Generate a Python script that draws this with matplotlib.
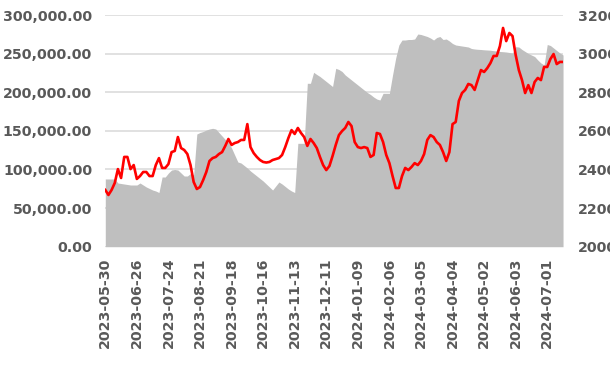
import numpy as np
import matplotlib.pyplot as plt
from matplotlib.ticker import FuncFormatter

# sampled every 2 trading days, starting 2023-05-30
volume = [
    87700, 87700, 87700, 87700, 82480, 81830, 81180, 80540, 79890, 79890,
    79890, 82480, 79890, 77300, 75360, 73410, 72120, 70180, 90250, 90250,
    95430, 99310, 99960, 99310, 95430, 91540, 91540, 94780, 92840, 145920,
    147870, 149160, 151100, 152400, 153300, 152400, 147870, 143330, 138800, 134920,
    127800, 118730, 109670, 108370, 105140, 101900, 98020, 94780, 91540, 88300,
    85070, 81180, 77300, 73410, 78590, 83770, 81180, 77950, 74710, 72120,
    70180, 133880, 133880, 133880, 211570, 211570, 225810, 222960, 220380, 217140,
    213900, 210660, 207430, 230990, 229440, 226850, 222320, 219080, 215840, 212610,
    209370, 206130, 202900, 199660, 197070, 193830, 191240, 189950, 198620, 198620,
    198620, 222320, 244330, 261160, 267630, 267630, 268280, 268280, 268930, 275400,
    274760, 273460, 272170, 270220, 267630, 270870, 272170, 268280, 268930, 266340,
    263100, 261160, 260510, 259870, 259220, 258570, 256630, 255980, 255590, 255330,
    254950, 254690, 254430, 253780, 253390, 252750, 252490, 252100, 251450, 250800,
    258960, 258570, 255330, 252750, 250160, 248210, 246270, 241740, 237860, 235270,
    261810, 260510, 257280, 254040, 250800, 248210,
]

index_close = [
    2294, 2268, 2294, 2330, 2402, 2356, 2465, 2465, 2402, 2423,
    2351, 2366, 2387, 2387, 2366, 2366, 2423, 2459, 2408, 2408,
    2428, 2490, 2496, 2568, 2511, 2501, 2480, 2423, 2335, 2299,
    2309, 2345, 2387, 2444, 2459, 2465, 2480, 2490, 2522, 2558,
    2527, 2537, 2542, 2553, 2553, 2635, 2516, 2485, 2465, 2449,
    2439, 2436, 2439, 2449, 2454, 2459, 2475, 2516, 2563, 2604,
    2584, 2615, 2589, 2568, 2522, 2558, 2537, 2511, 2465, 2423,
    2397, 2418, 2470, 2527, 2578, 2599, 2615, 2646, 2625, 2542,
    2516, 2511, 2516, 2511, 2465, 2475, 2589, 2584, 2542, 2475,
    2433, 2366, 2304, 2304, 2366, 2408, 2397, 2413, 2433, 2423,
    2444, 2480, 2553, 2578, 2568, 2542, 2527, 2490, 2444, 2490,
    2635, 2646, 2755, 2796, 2812, 2843, 2837, 2812, 2863, 2915,
    2905, 2925, 2951, 2988, 2988, 3039, 3133, 3065, 3107, 3091,
    2993, 2915, 2863, 2796, 2837, 2796, 2853, 2874, 2863, 2931,
    2931, 2972, 2998, 2946, 2957, 2957,
]

tick_labels = [
    '2023-05-30', '2023-06-26', '2023-07-24', '2023-08-21', '2023-09-18',
    '2023-10-16', '2023-11-13', '2023-12-11', '2024-01-09', '2024-02-06',
    '2024-03-05', '2024-04-04', '2024-05-02', '2024-06-03', '2024-07-01',
]

day = np.arange(len(volume)) * 2
tick_pos = np.arange(len(tick_labels)) * 20

label_color = '#595959'
font = dict(family='DejaVu Sans', weight='bold', size=10.2, color=label_color)

fig = plt.figure(figsize=(6.1, 3.69), dpi=100)
ax = fig.add_axes([0.1726, 0.3314, 0.7504, 0.6279])
ax2 = ax.twinx()

ax.fill_between(day, volume, 0, color='#bfbfbf', lw=0, zorder=2)
ax2.plot(day, index_close, color='#ff0000', lw=1.9, zorder=3)

ax.set_xlim(0, 290)
ax.set_ylim(0, 300000)
ax.set_yticks(np.arange(0, 300001, 50000))
ax.yaxis.set_major_formatter(FuncFormatter(lambda v, p: f'{v:,.2f}'))
ax2.set_ylim(2000, 3200)
ax2.set_yticks(np.arange(2000, 3201, 200))

ax.set_xticks(tick_pos)
ax.set_xticklabels(tick_labels, rotation=90)

ax.grid(axis='y', color='#d9d9d9', lw=1.1, zorder=0)
ax.set_axisbelow(True)

for a in (ax, ax2):
    for s in a.spines.values():
        s.set_visible(False)
    a.tick_params(length=0)
ax.tick_params(axis='y', pad=9.5)
ax.tick_params(axis='x', pad=8)
ax2.tick_params(axis='y', pad=11)

for lab in ax.get_xticklabels() + ax.get_yticklabels() + ax2.get_yticklabels():
    lab.set_fontfamily(font['family'])
    lab.set_fontweight(font['weight'])
    lab.set_fontsize(font['size'])
    lab.set_color(font['color'])

fig.savefig('out.png', dpi=100)
